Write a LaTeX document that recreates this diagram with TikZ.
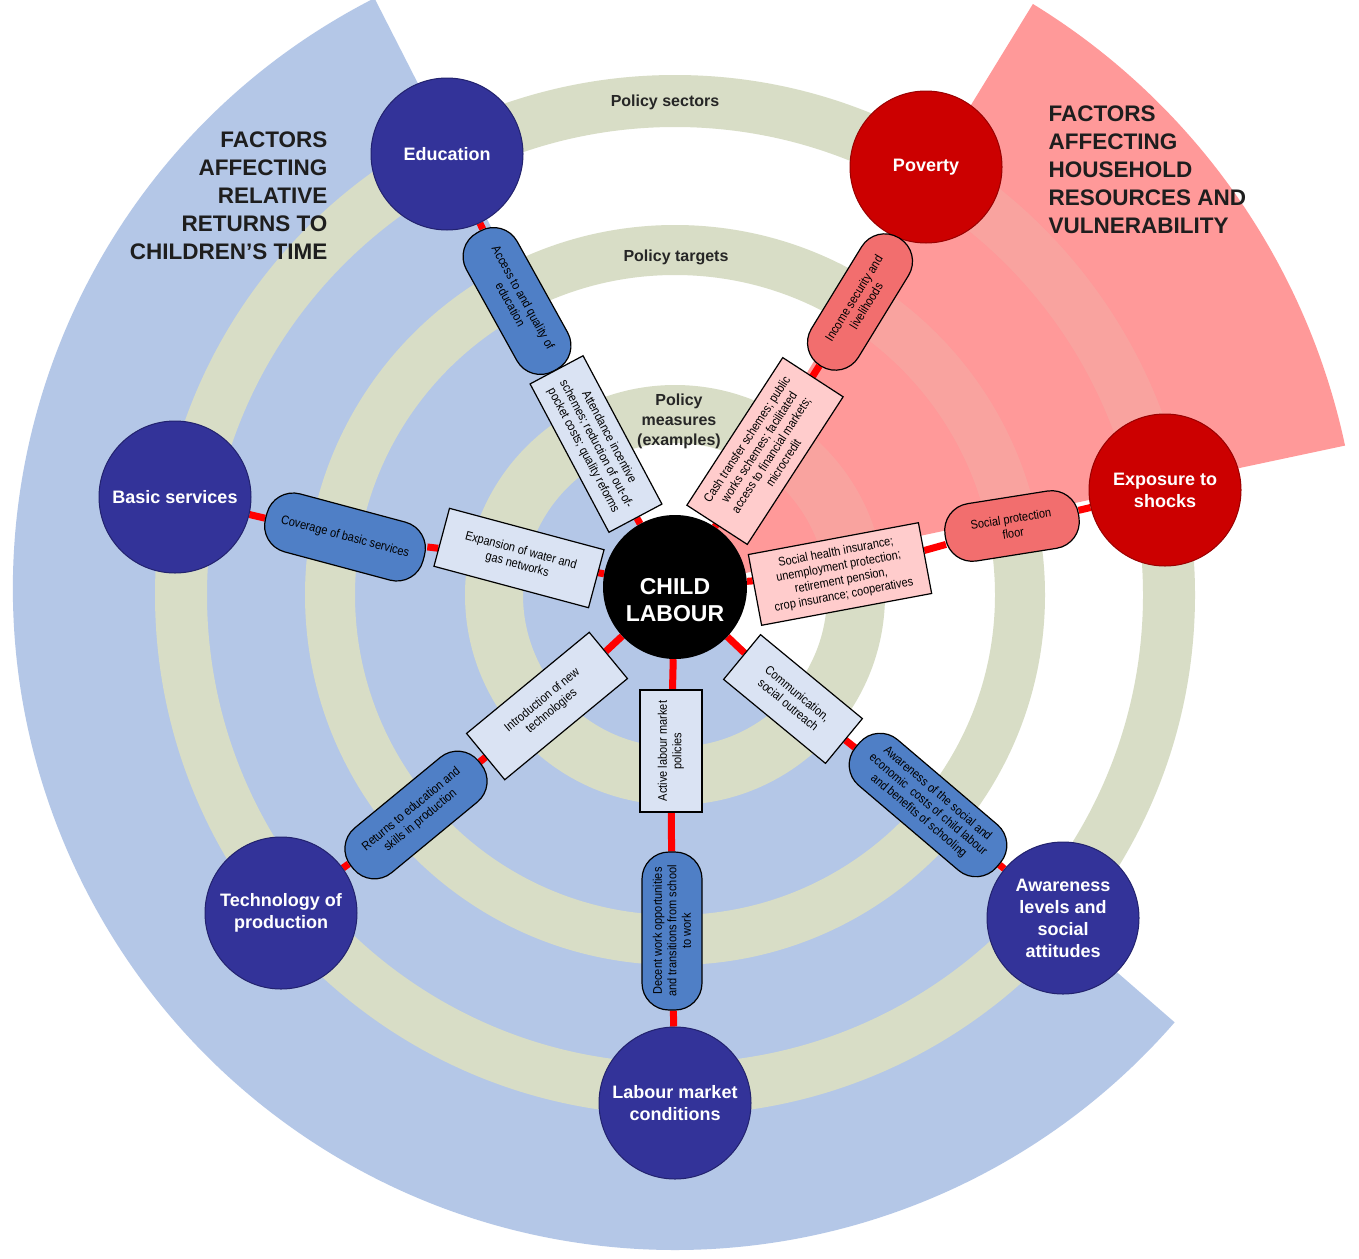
\documentclass[tikz,border=0pt]{standalone}
\usepackage{fontspec}
\setmainfont{Liberation Sans}
\newfontfamily\boxfont[FakeStretch=0.88]{Liberation Sans}
\usetikzlibrary{calc}
\definecolor{bluebg}{HTML}{B4C7E7}
\definecolor{sage}{HTML}{D8DDC6}
\definecolor{pinkbg}{HTML}{FF9999}
\definecolor{navy}{HTML}{333399}
\definecolor{navyd}{HTML}{22226E}
\definecolor{darkred}{HTML}{CC0000}
\definecolor{darkredd}{HTML}{990000}
\definecolor{pillblue}{HTML}{4F7FC6}
\definecolor{pillred}{HTML}{F26E6E}
\definecolor{measblue}{HTML}{DAE3F3}
\definecolor{measpink}{HTML}{FFCCCC}
\definecolor{titlec}{HTML}{1E1E1E}
\pgfdeclarelayer{bg}
\pgfdeclarelayer{spk}
\pgfsetlayers{bg,spk,main}
\tikzset{
  factor/.style={circle, minimum size=152pt, inner sep=0pt, align=center, text=white, line width=1pt, font=\bfseries\fontsize{18}{22}\selectfont},
  navyfac/.style={factor, fill=navy, draw=navyd},
  redfac/.style={factor, fill=darkred, draw=darkredd},
  target/.style={draw=black, line width=1.2pt, rounded corners=27pt, align=center, inner sep=2pt, font=\boxfont\fontsize{12.5}{14.5}\selectfont},
  tblue/.style={target, fill=pillblue},
  tred/.style={target, fill=pillred},
  measure/.style={draw=black, line width=1.2pt, align=center, inner sep=2pt, font=\boxfont\fontsize{12.5}{14.5}\selectfont},
  mblue/.style={measure, fill=measblue},
  mred/.style={measure, fill=measpink},
  spoke/.style={draw=red, line width=7pt},
  ringlab/.style={font=\bfseries\fontsize{16}{20}\selectfont, align=center, text=black!85},
  titletext/.style={font=\bfseries\fontsize{22.5}{28}\selectfont, text=titlec},
}
\begin{document}
\begin{tikzpicture}[x=1pt,y=1pt]
\useasboundingbox (0,0) rectangle (1359,-1258);
\coordinate (O) at (675,-588);
\coordinate (R) at (675,-595);
\begin{pgfonlayer}{bg}
\begin{scope}
 \clip (0,0) rectangle (1359,-1258);
 \fill[white] (0,0) rectangle (1359,-1258);
 \fill[bluebg] (O) -- ++(117:662) arc[start angle=117, end angle=319, radius=662] -- cycle;
 \fill[sage, even odd rule] (R) circle[radius=520] (R) circle[radius=468];
 \fill[sage, even odd rule] (R) circle[radius=370] (R) circle[radius=320];
 \fill[sage, even odd rule] (R) circle[radius=210] (R) circle[radius=152];
 \fill[pinkbg] (O) -- ++(12:685) arc[start angle=12, end angle=58.5, radius=685] -- cycle;
 \begin{scope}
  \clip (O) -- ++(12:685) arc[start angle=12, end angle=58.5, radius=685] -- cycle;
  \fill[sage, opacity=0.15, even odd rule] (R) circle[radius=520] (R) circle[radius=468];
  \fill[sage, opacity=0.15, even odd rule] (R) circle[radius=370] (R) circle[radius=320];
  \fill[sage, opacity=0.15, even odd rule] (R) circle[radius=210] (R) circle[radius=152];
 \end{scope}
\end{scope}
\end{pgfonlayer}

% ring labels
\node[ringlab] (lsec) at (665,-102) {Policy sectors};
\node[ringlab] (ltar) at (676,-257) {Policy targets};
\node[ringlab] (lmea) at (679,-421) {Policy\\measures\\(examples)};

% titles
\node[titletext, align=right, anchor=east] (tleft) at (331,-196) {FACTORS\\AFFECTING\\RELATIVE\\RETURNS TO\\CHILDREN'S TIME};
\node[titletext, align=left, anchor=west] (tright) at (1045,-170) {FACTORS\\AFFECTING\\HOUSEHOLD\\RESOURCES AND\\VULNERABILITY};

% centre
\node[circle, fill=black, minimum size=144pt, inner sep=0pt] (cl) at (675,-587) {};
\node[align=center, text=white, font=\bfseries\fontsize{23}{27}\selectfont] (cltext) at (675,-600) {CHILD\\LABOUR};

% factors
\node[navyfac] (edu) at (447,-154) {Education};
\node[redfac] (pov) at (926,-167) {Poverty};
\node[redfac] (exp) at (1165,-490) {Exposure to\\shocks};
\node[navyfac] (awa) at (1063,-918) {Awareness\\levels and\\social\\attitudes};
\node[navyfac] (lab) at (675,-1103) {Labour market\\conditions};
\node[navyfac] (tec) at (281,-913) {Technology of\\production};
\node[navyfac] (bas) at (175,-497) {Basic services};

% targets
\node[tblue, rotate=-61, minimum width=158pt, minimum height=58pt] (tedu) at (517,-301) {Access to and quality of\\education};
\node[tred, rotate=58.5, minimum width=150pt, minimum height=55pt] (tpov) at (860,-302) {Income security and\\livelihoods};
\node[tred, rotate=9, minimum width=135pt, minimum height=58pt] (texp) at (1012,-526) {Social protection\\floor};
\node[tblue, rotate=-40.4, minimum width=185pt, minimum height=60pt] (tawa) at (928,-805) {Awareness of the social and\\economic\ \ costs of child labour\\and benefits of schooling};
\node[tblue, rotate=90, minimum width=158pt, minimum height=60pt] (tlab) at (672,-931) {Decent work opportunities\\and transitions from school\\to work};
\node[tblue, rotate=39.5, minimum width=165pt, minimum height=58pt] (ttec) at (416,-815) {Returns to education and\\skills in production};
\node[tblue, rotate=-15, minimum width=163pt, minimum height=60pt] (tbas) at (345,-537) {Coverage of basic services};

% measures
\node[mblue, rotate=-62, minimum width=168pt, minimum height=60pt] (medu) at (596,-444) {Attendance incentive\\schemes; reduction of out-of-\\pocket costs; quality reforms};
\node[mred, rotate=57, minimum width=176pt, minimum height=72pt] (mpov) at (765,-451) {Cash transfer schemes; public\\works schemes; facilitated\\access to financial markets;\\microcredit};
\node[mred, rotate=10.6, minimum width=173pt, minimum height=72pt] (mexp) at (840,-574) {Social health insurance;\\unemployment protection;\\retirement pension,\\crop insurance; cooperatives};
\node[mblue, rotate=-39.5, minimum width=132pt, minimum height=58pt] (mawa) at (793,-699) {Communication,\\social outreach};
\node[mblue, rotate=90, minimum width=122pt, minimum height=62pt] (mlab) at (671,-751) {Active labour market\\policies};
\node[mblue, rotate=39.5, minimum width=159pt, minimum height=60pt] (mtec) at (547,-706) {Introduction of new\\technologies};
\node[mblue, rotate=-15, minimum width=160pt, minimum height=60pt] (mbas) at (519,-558) {Expansion of water and\\gas networks};

% spokes
\begin{pgfonlayer}{spk}
\draw[spoke] (cl) -- (medu) -- (tedu) -- (edu);
\draw[spoke] (cl) -- (mpov) -- (tpov) -- (pov);
\draw[spoke] (cl) -- (mexp) -- (texp) -- (exp);
\draw[spoke] (cl) -- (mawa) -- (tawa) -- (awa);
\draw[spoke] (cl) -- (mlab) -- (tlab) -- (lab);
\draw[spoke] (cl) -- (mtec) -- (ttec) -- (tec);
\draw[spoke] (cl) -- (mbas) -- (tbas) -- (bas);
\end{pgfonlayer}
\end{tikzpicture}
\end{document}
